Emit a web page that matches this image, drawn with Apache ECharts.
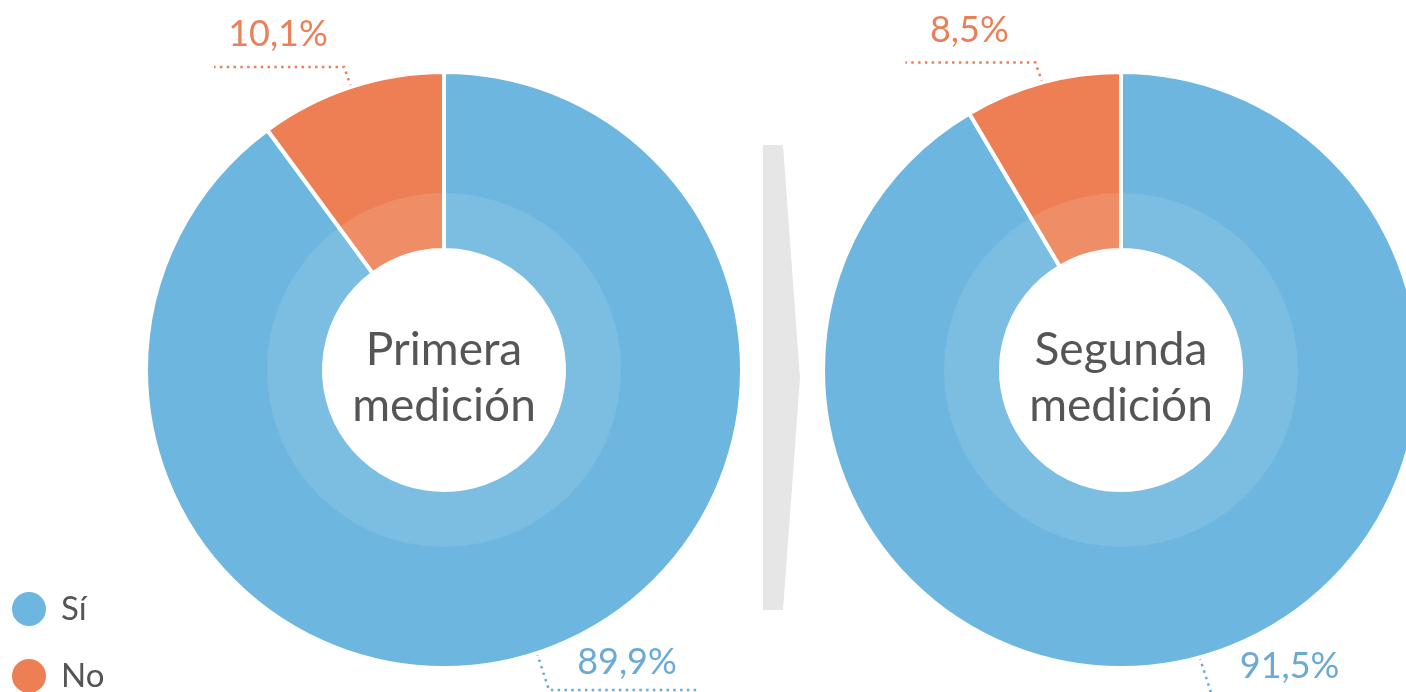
<!DOCTYPE html>
<html>
<head>
	<meta charset="utf-8" />
	<title></title>
	<style type="text/css">
		html, body { margin: 0; padding: 0; background: #fff; }
		#chart { width: 1406px; height: 692px; }
	</style>
</head>
<body>
	<div id="chart"></div>
</body>
</html>
<script src="https://cdn.jsdelivr.net/npm/echarts@6/dist/echarts.min.js"></script>
<script>
	var categorias = ['Sí', 'No'];
	var primera = [89.9, 10.1];
	var segunda = [91.5, 8.5];
	var titulos = ['Primera\nmedición', 'Segunda\nmedición'];
	var colores = ['#6cb6df', '#ee7f55'];
	var coloresTexto = ['#6aaad3', '#e9805a'];

	var myChart = echarts.init(document.getElementById('chart'));

	function datos(valores) {
		var arr = [];
		for (var i = 0; i < valores.length; i++) {
			arr.push({
				name: categorias[i],
				value: valores[i],
				label: { color: coloresTexto[i] },
				labelLine: { lineStyle: { color: coloresTexto[i] } }
			});
		}
		return arr;
	}

	// etiqueta encima de la parte horizontal de la linea punteada
	function colocarEtiqueta(params) {
		var p = params.labelLinePoints;
		if (!p) return {};
		var a = p[0];
		if (a[1] < 346) {
			var codo = [a[0] - 7, a[1] - 20];
			var fin = [codo[0] - 130, codo[1]];
			return { x: codo[0] - 66, y: codo[1] - 14, align: 'center', verticalAlign: 'bottom', labelLinePoints: [a, codo, fin] };
		}
		var codo2 = [a[0] + 12, a[1] + 37];
		var fin2 = [codo2[0] + 150, codo2[1]];
		return { x: codo2[0] + 78, y: codo2[1] - 10, align: 'center', verticalAlign: 'bottom', labelLinePoints: [a, codo2, fin2] };
	}

	function dona(centro, valores) {
		return [{
			type: 'pie',
			center: centro,
			radius: [120, 298],
			startAngle: 90,
			clockwise: true,
			avoidLabelOverlap: false,
			data: datos(valores),
			itemStyle: { borderColor: '#fff', borderWidth: 4 },
			label: {
				show: true,
				position: 'outside',
				fontSize: 36,
				fontFamily: 'Lato',
				formatter: function (d) { return d.value.toFixed(1).replace('.', ',') + '%'; }
			},
			labelLine: { show: true, length: 10, length2: 10, smooth: false, lineStyle: { width: 2.5, type: [2.5, 4.3] } },
			labelLayout: colocarEtiqueta,
			emphasis: { disabled: true }
		}, {
			type: 'pie',
			center: centro,
			radius: [120, 177],
			silent: true,
			z: 3,
			data: [{ name: '', value: 1 }],
			itemStyle: { color: 'rgba(255,255,255,0.11)', borderWidth: 0 },
			label: { show: false },
			labelLine: { show: false },
			emphasis: { disabled: true }
		}];
	}

	var options = {
		animation: false,
		color: colores,
		legend: {
			data: categorias,
			orient: 'vertical',
			left: 10,
			bottom: -3,
			padding: 0,
			icon: 'circle',
			itemWidth: 38,
			itemHeight: 36,
			itemGap: 29,
			selectedMode: false,
			textStyle: { fontSize: 33, fontFamily: 'Lato', color: '#555', padding: [0, 0, 0, 8] }
		},
		graphic: [{
			type: 'polygon',
			shape: { points: [[763, 145], [783, 145], [800, 378], [783, 610], [763, 610]] },
			style: { fill: '#e6e6e6' }
		}, {
			type: 'text',
			x: 444,
			y: 378,
			z: 10,
			style: { text: titulos[0], fontSize: 46, fontFamily: 'Lato', fill: '#555', lineHeight: 56, align: 'center', verticalAlign: 'middle' }
		}, {
			type: 'text',
			x: 1121,
			y: 378,
			z: 10,
			style: { text: titulos[1], fontSize: 46, fontFamily: 'Lato', fill: '#555', lineHeight: 56, align: 'center', verticalAlign: 'middle' }
		}],
		series: dona([444, 370], primera).concat(dona([1121, 370], segunda))
	};

	myChart.setOption(options);
</script>
